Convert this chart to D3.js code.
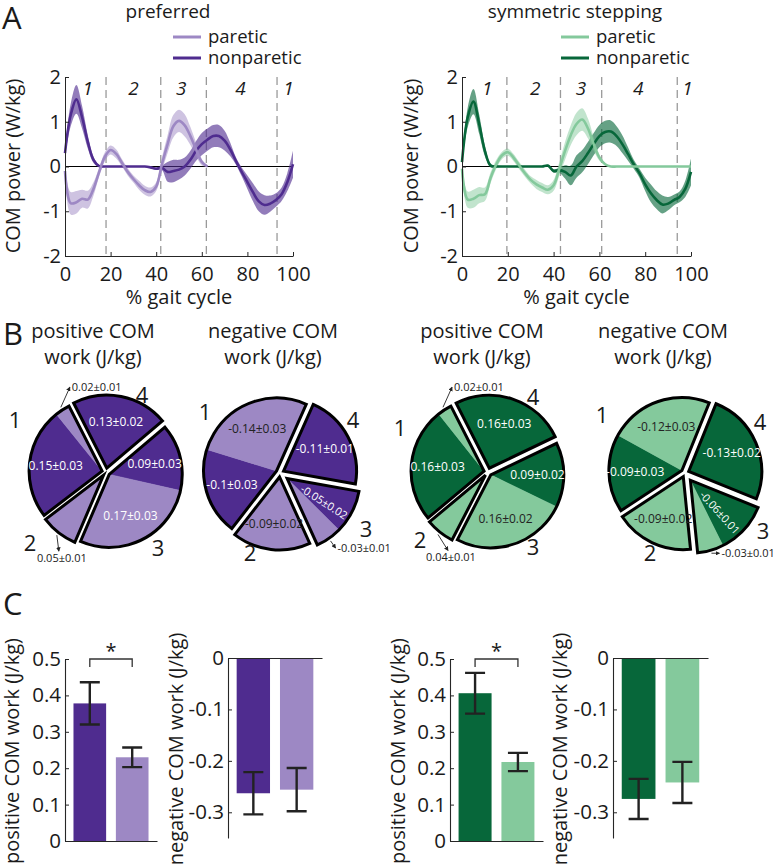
<!DOCTYPE html>
<html>
<head>
<meta charset="utf-8">
<script src="https://cdn.jsdelivr.net/npm/d3@7"></script>
<style>
  body { margin: 0; background: #fff; }
  text { font-family: "Open Sans", sans-serif; fill: #1a1a1a; }
</style>
</head>
<body>
<svg id="fig" width="780" height="865"></svg>
<script>
// ---------- data ----------
const gaitPct = [0,2.5,5,7.5,10,12.5,15,17.5,20,22.5,25,27.5,30,32.5,35,37.5,40,42.5,45,47.5,50,52.5,55,57.5,60,62.5,65,67.5,70,72.5,75,77.5,80,82.5,85,87.5,90,92.5,95,97.5,100];

// preferred walking, COM power (W/kg)
const prefNonMean = [0.3,1.15,1.5,1.1,0.55,0.15,0.01,0,0,0,0,0,0,0,0,-0.02,-0.05,-0.03,-0.12,-0.1,-0.07,0,0.15,0.35,0.5,0.6,0.68,0.68,0.58,0.38,0.12,-0.12,-0.35,-0.58,-0.78,-0.86,-0.83,-0.75,-0.62,-0.35,0.05];
const prefNonSd   = [0.08,0.25,0.32,0.25,0.15,0.07,0.02,0.01,0.01,0.01,0.01,0.01,0.01,0.01,0.01,0.02,0.03,0.05,0.22,0.25,0.22,0.2,0.2,0.22,0.25,0.25,0.25,0.25,0.22,0.15,0.08,0.1,0.15,0.2,0.22,0.22,0.18,0.15,0.15,0.2,0.3];
const prefParMean = [-0.1,-0.82,-0.8,-0.72,-0.74,-0.5,-0.12,0.22,0.37,0.28,0.08,-0.12,-0.28,-0.42,-0.53,-0.57,-0.45,0.05,0.5,0.9,1.02,0.92,0.68,0.38,0.1,0,null,null,null,null,null,null,null,null,null,null,null,null,null,null,null];
const prefParSd   = [0.05,0.25,0.25,0.2,0.2,0.15,0.1,0.1,0.1,0.1,0.08,0.08,0.08,0.1,0.1,0.1,0.1,0.15,0.2,0.25,0.25,0.25,0.2,0.15,0.07,0.02,null,null,null,null,null,null,null,null,null,null,null,null,null,null,null];

// symmetric stepping, COM power (W/kg)
const symNonMean = [0.1,1.1,1.45,0.95,0.35,0.02,0,0,0,0,0,0,0,0,0,0.02,-0.1,-0.08,-0.12,-0.2,0,0.12,0.3,0.5,0.68,0.77,0.78,0.68,0.5,0.28,0.05,-0.15,-0.4,-0.6,-0.75,-0.85,-0.83,-0.75,-0.68,-0.5,-0.12];
const symNonSd   = [0.05,0.22,0.28,0.22,0.12,0.04,0.02,0.01,0.01,0.01,0.01,0.01,0.01,0.01,0.01,0.02,0.04,0.06,0.15,0.22,0.25,0.25,0.25,0.25,0.25,0.25,0.25,0.22,0.2,0.15,0.1,0.1,0.15,0.2,0.2,0.2,0.15,0.12,0.12,0.18,0.3];
const symParMean = [-0.05,-0.74,-0.72,-0.64,-0.62,-0.25,0.05,0.25,0.32,0.2,0.02,-0.15,-0.3,-0.4,-0.47,-0.52,-0.42,-0.05,0.35,0.7,0.95,1.05,0.85,0.5,0.2,0.05,0,0,0,0,0,0,0,0,0,0,0,0,0,0,0];
const symParSd   = [0.05,0.18,0.2,0.18,0.15,0.12,0.1,0.08,0.08,0.08,0.08,0.08,0.08,0.1,0.1,0.1,0.12,0.15,0.2,0.22,0.25,0.25,0.22,0.15,0.07,0.02,0,0,0,0,0,0,0,0,0,0,0,0,0,0,0];

const prefPhaseBounds = [18, 42, 62, 93];
const symPhaseBounds  = [19.6, 43, 61, 94];
const phaseNames = ['1', '2', '3', '4', '1'];
const prefPhaseLabelX = [10, 30, 51, 77, 98];
const symPhaseLabelX  = [11, 32, 52, 77, 98.5];

// COM work per phase (phase 1..4), J/kg
const prefPosNon = [0.15, 0, 0.09, 0.13],   prefPosNonSd = [0.03, 0, 0.03, 0.02];
const prefPosPar = [0.02, 0.05, 0.17, 0],   prefPosParSd = [0.01, 0.01, 0.03, 0];
const prefNegNon = [-0.1, 0, -0.05, -0.11], prefNegNonSd = [0.03, 0, 0.02, 0.01];
const prefNegPar = [-0.14, -0.09, -0.03, 0],prefNegParSd = [0.03, 0.02, 0.01, 0];
const symPosNon  = [0.16, 0, 0.09, 0.16],   symPosNonSd  = [0.03, 0, 0.02, 0.03];
const symPosPar  = [0.02, 0.04, 0.16, 0],   symPosParSd  = [0.01, 0.01, 0.02, 0];
const symNegNon  = [-0.09, 0, -0.06, -0.13],symNegNonSd  = [0.03, 0, 0.01, 0.02];
const symNegPar  = [-0.12, -0.09, -0.03, 0],symNegParSd  = [0.03, 0.02, 0.01, 0];

// total COM work (nonparetic, paretic), J/kg
const limbs = ['nonparetic', 'paretic'];
const prefPosWork = [0.378, 0.23],   prefPosErr = [0.058, 0.027];
const prefNegWork = [-0.263, -0.256],prefNegErr = [0.041, 0.042];
const symPosWork  = [0.406, 0.217],  symPosErr  = [0.056, 0.025];
const symNegWork  = [-0.274, -0.242],symNegErr  = [0.039, 0.04];

// ---------- styles ----------
const purpleDark = '#4f2c8f', purpleLight = '#9d88c4';
const greenDark = '#07673a', greenLight = '#84c99c';
const AX = '#262626';

const svg = d3.select('#fig');
const defs = svg.append('defs');
defs.append('marker').attr('id', 'arrowhead')
  .attr('viewBox', '0 0 6 6').attr('refX', 5).attr('refY', 3)
  .attr('markerWidth', 5).attr('markerHeight', 5).attr('orient', 'auto')
  .append('path').attr('d', 'M0,0L6,3L0,6Z').attr('fill', '#222');

// panel letters
svg.append('text').attr('x', 2).attr('y', 29).attr('font-size', 31).text('A');
svg.append('text').attr('x', 3).attr('y', 345).attr('font-size', 31).text('B');
svg.append('text').attr('x', 3).attr('y', 615).attr('font-size', 31).text('C');

// ---------- A : COM power over gait cycle ----------
function gaitPanel(o) {
  const g = svg.append('g');
  const x = d3.scaleLinear().domain([0, 100]).range([o.left, o.right]);
  const y = d3.scaleLinear().domain([-2, 2]).range([256, 77]);

  g.selectAll('line.bound').data(o.bounds).join('line')
    .attr('class', 'bound')
    .attr('x1', d => x(d)).attr('x2', d => x(d))
    .attr('y1', y(2)).attr('y2', y(-2))
    .attr('stroke', '#9a9a9a').attr('stroke-width', 1.3).attr('stroke-dasharray', '8,5');

  g.append('line')
    .attr('x1', x(0)).attr('x2', x(100)).attr('y1', y(0)).attr('y2', y(0))
    .attr('stroke', '#000').attr('stroke-width', 1.2);

  const rows = (m, s) => gaitPct.map((p, i) => ({ p, m: m[i], s: s[i] }));
  const area = d3.area().defined(d => d.m != null)
    .x(d => x(d.p)).y0(d => y(d.m - d.s)).y1(d => y(d.m + d.s))
    .curve(d3.curveCatmullRom);
  const line = d3.line().defined(d => d.m != null)
    .x(d => x(d.p)).y(d => y(d.m))
    .curve(d3.curveCatmullRom);

  const series = [
    { data: rows(o.nonMean, o.nonSd), color: o.dark, op: 0.62 },
    { data: rows(o.parMean, o.parSd), color: o.light, op: 0.5 }
  ];
  series.forEach(sr => {
    g.append('path').datum(sr.data).attr('d', area)
      .attr('fill', sr.color).attr('fill-opacity', sr.op);
  });
  series.forEach(sr => {
    g.append('path').datum(sr.data).attr('d', line)
      .attr('fill', 'none').attr('stroke', sr.color).attr('stroke-width', 2.6);
  });

  // phase numbers
  g.selectAll('text.phase').data(phaseNames).join('text')
    .attr('class', 'phase')
    .attr('x', (d, i) => x(o.labelX[i])).attr('y', 95)
    .attr('text-anchor', 'middle').attr('font-size', 19).attr('font-style', 'italic')
    .text(d => d);

  // axes
  const ya = g.append('g').attr('transform', `translate(${o.left},0)`)
    .call(d3.axisLeft(y).tickValues([-2, -1, 0, 1, 2]).tickSizeInner(-4).tickSizeOuter(0)
      .tickPadding(4).tickFormat(d => String(d)));
  const xa = g.append('g').attr('transform', `translate(0,${y(-2)})`)
    .call(d3.axisBottom(x).tickValues([0, 20, 40, 60, 80, 100]).tickSizeInner(-4).tickSizeOuter(0)
      .tickPadding(11));
  [ya, xa].forEach(a => {
    a.select('.domain').attr('stroke', AX).attr('stroke-width', 1);
    a.selectAll('.tick line').attr('stroke', AX);
    a.selectAll('.tick text').attr('font-size', 20).attr('fill', AX)
      .attr('font-family', '"Open Sans", sans-serif');
  });

  g.append('text').attr('x', (o.left + o.right) / 2).attr('y', 304)
    .attr('text-anchor', 'middle').attr('font-size', 20).text('% gait cycle');
  g.append('text').attr('transform', `translate(${o.ylabX},166) rotate(-90)`)
    .attr('text-anchor', 'middle').attr('font-size', 20).text('COM power (W/kg)');

  // title and legend
  g.append('text').attr('x', o.titleX).attr('y', 18)
    .attr('text-anchor', 'middle').attr('font-size', 19).text(o.title);
  const leg = [['paretic', o.light, 37], ['nonparetic', o.dark, 58]];
  leg.forEach(([name, col, ly]) => {
    g.append('line').attr('x1', o.legX).attr('x2', o.legX + 28).attr('y1', ly).attr('y2', ly)
      .attr('stroke', col).attr('stroke-width', 3);
    g.append('text').attr('x', o.legX + 35).attr('y', ly).attr('dy', '0.3em')
      .attr('font-size', 18.5).text(name);
  });
}

gaitPanel({ left: 65, right: 293, ylabX: 20, title: 'preferred', titleX: 168, legX: 173,
  nonMean: prefNonMean, nonSd: prefNonSd, parMean: prefParMean, parSd: prefParSd,
  dark: purpleDark, light: purpleLight, bounds: prefPhaseBounds, labelX: prefPhaseLabelX });
gaitPanel({ left: 462, right: 691, ylabX: 418, title: 'symmetric stepping', titleX: 575, legX: 561,
  nonMean: symNonMean, nonSd: symNonSd, parMean: symParMean, parSd: symParSd,
  dark: greenDark, light: greenLight, bounds: symPhaseBounds, labelX: symPhaseLabelX });

// ---------- B : work per phase pies ----------
const R = 73;
function piePanel(o) {
  const g = svg.append('g').attr('transform', `translate(${o.cx},${o.cy})`);
  svg.append('text').attr('x', o.tx).attr('y', 338).attr('text-anchor', 'middle')
    .attr('font-size', 20).text(o.title[0]);
  svg.append('text').attr('x', o.tx).attr('y', 364).attr('text-anchor', 'middle')
    .attr('font-size', 20).text(o.title[1]);

  // clockwise: phase 4, 3, 2, 1 ; nonparetic before paretic inside a phase
  const segs = [];
  [3, 2, 1, 0].forEach(ph => {
    [['np', o.non[ph], o.nonSd[ph]], ['p', o.par[ph], o.parSd[ph]]].forEach(([side, v, s]) => {
      if (v !== 0) segs.push({ ph, side, v, s });
    });
  });
  const a0 = o.start * Math.PI / 180;
  const arcs = d3.pie().sort(null).value(d => Math.abs(d.v))
    .startAngle(a0).endAngle(a0 + 2 * Math.PI)(segs);
  const arc = d3.arc().innerRadius(0).outerRadius(R);

  const phases = d3.groups(arcs, d => d.data.ph).map(([ph, list]) => {
    const s0 = d3.min(list, d => d.startAngle), s1 = d3.max(list, d => d.endAngle);
    const mid = (s0 + s1) / 2, off = o.explode[ph];
    return { ph, list, s0, s1, mid, ox: Math.sin(mid) * off, oy: -Math.cos(mid) * off };
  });

  // wedges and outlines
  phases.forEach(p => {
    const pg = g.append('g').attr('transform', `translate(${p.ox},${p.oy})`);
    pg.selectAll('path.seg').data(p.list).join('path').attr('class', 'seg')
      .attr('d', arc).attr('fill', d => d.data.side === 'np' ? o.dark : o.light)
      .attr('stroke', d => d.data.side === 'np' ? o.dark : o.light).attr('stroke-width', 0.5);
    pg.append('path').attr('d', arc({ startAngle: p.s0, endAngle: p.s1 }))
      .attr('fill', 'none').attr('stroke', '#000').attr('stroke-width', 3)
      .attr('stroke-linejoin', 'miter');
  });

  // value labels
  phases.forEach(p => {
    const pg = g.append('g').attr('transform', `translate(${p.ox},${p.oy})`);
    p.list.forEach(d => {
      const span = d.endAngle - d.startAngle;
      const m = (d.startAngle + d.endAngle) / 2;
      const txt = String(d.data.v) + '\u00b1' + d.data.s.toFixed(2);
      if (span > 0.56) {
        const t = pg.append('text')
          .attr('text-anchor', 'middle').attr('dy', '0.35em').attr('font-size', 12)
          .style('fill', d.data.side === 'np' ? '#fff' : o.parText).text(txt);
        if (span < 0.79) {
          // narrow slice: write along the radius
          const ma = (m + p.mid) / 2, r = R * 0.6;
          t.attr('font-size', 11)
            .attr('transform', `translate(${Math.sin(ma) * r},${-Math.cos(ma) * r}) rotate(${ma * 180 / Math.PI - 90})`);
        } else {
          const r = R * 0.64;
          t.attr('x', Math.sin(m) * r).attr('y', -Math.cos(m) * r);
        }
      } else {
        const c = o.callouts[d.data.ph + d.data.side];
        const sx = Math.sin(m) * (R + 3), sy = -Math.cos(m) * (R + 3);
        const ex = sx + c[0], ey = sy + c[1];
        pg.append('line').attr('x1', sx).attr('y1', sy).attr('x2', ex).attr('y2', ey)
          .attr('stroke', '#222').attr('stroke-width', 0.9).attr('marker-end', 'url(#arrowhead)');
        pg.append('text').attr('x', ex + (c[2] === 'start' ? 2 : 3))
          .attr('y', ey + (c[2] === 'start' ? 4 : 11))
          .attr('text-anchor', c[2]).attr('font-size', 11).text(txt);
      }
    });
  });

  // phase numbers around the pie
  o.phasePos.forEach((p, i) => {
    g.append('text').attr('x', p[0]).attr('y', p[1]).attr('dy', '0.36em')
      .attr('text-anchor', 'middle').attr('font-size', 22).text(String(i + 1));
  });
}

piePanel({ cx: 106, cy: 472, tx: 93, title: ['positive COM', 'work (J/kg)'],
  non: prefPosNon, nonSd: prefPosNonSd, par: prefPosPar, parSd: prefPosParSd,
  dark: purpleDark, light: purpleLight, parText: '#fff', start: -27, explode: [4, 4, 4, 4],
  phasePos: [[-91, -52], [-76, 71], [52, 76], [36, -77]],
  callouts: { '0p': [9, -20, 'start'], '1p': [2, 16, 'middle'] } });
piePanel({ cx: 280, cy: 473, tx: 273, title: ['negative COM', 'work (J/kg)'],
  non: prefNegNon, nonSd: prefNegNonSd, par: prefNegPar, parSd: prefNegParSd,
  dark: purpleDark, light: purpleLight, parText: '#222', start: 24, explode: [4, 4, 9, 4],
  phasePos: [[-75, -61], [-30, 80], [86, 56], [73, -53]],
  callouts: { '2p': [5, 7, 'start'] } });
piePanel({ cx: 488, cy: 472, tx: 482, title: ['positive COM', 'work (J/kg)'],
  non: symPosNon, nonSd: symPosNonSd, par: symPosPar, parSd: symPosParSd,
  dark: greenDark, light: greenLight, parText: '#222', start: -27, explode: [4, 4, 4, 4],
  phasePos: [[-88, -44], [-68, 68], [45, 75], [45, -75]],
  callouts: { '0p': [9, -20, 'start'], '1p': [10, 16, 'middle'] } });
piePanel({ cx: 685, cy: 473, tx: 663, title: ['negative COM', 'work (J/kg)'],
  non: symNegNon, nonSd: symNegNonSd, par: symNegPar, parSd: symNegParSd,
  dark: greenDark, light: greenLight, parText: '#222', start: 22, explode: [4, 4, 9, 4],
  phasePos: [[-83, -58], [-35, 80], [78, 58], [75, -51]],
  callouts: { '2p': [8, 0, 'start'] } });

// ---------- C : total work bars ----------
function barPanel(o) {
  const g = svg.append('g');
  const x = d3.scaleBand().domain(limbs).range([o.x0, o.x1]).paddingInner(0.23).paddingOuter(0.2);
  const y = o.pos
    ? d3.scaleLinear().domain([0, 0.5]).range([841, 659])
    : d3.scaleLinear().domain([-0.35, 0]).range([838, 658]);
  const ticks = o.pos ? [0, 0.1, 0.2, 0.3, 0.4, 0.5] : [-0.3, -0.2, -0.1, 0];

  g.selectAll('rect').data(limbs).join('rect')
    .attr('x', d => x(d)).attr('width', x.bandwidth())
    .attr('y', (d, i) => Math.min(y(0), y(o.vals[i])))
    .attr('height', (d, i) => Math.abs(y(o.vals[i]) - y(0)))
    .attr('fill', (d, i) => o.colors[i]);

  // error bars
  limbs.forEach((d, i) => {
    const cx = x(d) + x.bandwidth() / 2;
    const lo = y(o.vals[i] - o.errs[i]), hi = y(o.vals[i] + o.errs[i]);
    g.append('path')
      .attr('d', `M${cx - 10},${lo}H${cx + 10}M${cx},${lo}V${hi}M${cx - 10},${hi}H${cx + 10}`)
      .attr('stroke', '#222').attr('stroke-width', 2.4).attr('fill', 'none');
  });

  const ya = g.append('g').attr('transform', `translate(${o.x0},0)`)
    .call(d3.axisLeft(y).tickValues(ticks).tickSizeInner(-4).tickSizeOuter(0)
      .tickPadding(4).tickFormat(d => String(d)));
  const xa = g.append('g').attr('transform', `translate(0,${y(0)})`)
    .call(d3.axisBottom(x).tickValues([]).tickSizeOuter(0));
  [ya, xa].forEach(a => {
    a.select('.domain').attr('stroke', AX).attr('stroke-width', 1.1);
    a.selectAll('.tick line').attr('stroke', AX);
    a.selectAll('.tick text').attr('font-size', 20.5).attr('fill', AX)
      .attr('font-family', '"Open Sans", sans-serif');
  });

  g.append('text').attr('transform', `translate(${o.lx},${o.ly}) rotate(-90)`)
    .attr('text-anchor', 'middle').attr('font-size', 20).text(o.label);

  if (o.sig) {
    const xa0 = x(limbs[0]) + x.bandwidth() / 2, xa1 = x(limbs[1]) + x.bandwidth() / 2;
    const top = y(0.5);
    g.append('path').attr('d', `M${xa0},${top + 8}V${top}H${xa1}V${top + 8}`)
      .attr('fill', 'none').attr('stroke', '#333').attr('stroke-width', 1.3);
    g.append('text').attr('x', (xa0 + xa1) / 2).attr('y', top - 1)
      .attr('text-anchor', 'middle').attr('font-size', 20).text('*');
  }
}

barPanel({ x0: 65, x1: 157, pos: true, vals: prefPosWork, errs: prefPosErr,
  colors: [purpleDark, purpleLight], label: 'positive COM work (J/kg)', lx: 19, ly: 751, sig: true });
barPanel({ x0: 228, x1: 322, pos: false, vals: prefNegWork, errs: prefNegErr,
  colors: [purpleDark, purpleLight], label: 'negative COM work (J/kg)', lx: 183, ly: 749, sig: false });
barPanel({ x0: 450, x1: 543, pos: true, vals: symPosWork, errs: symPosErr,
  colors: [greenDark, greenLight], label: 'positive COM work (J/kg)', lx: 405, ly: 751, sig: true });
barPanel({ x0: 613, x1: 708, pos: false, vals: symNegWork, errs: symNegErr,
  colors: [greenDark, greenLight], label: 'negative COM work (J/kg)', lx: 567, ly: 749, sig: false });
</script>
</body>
</html>
